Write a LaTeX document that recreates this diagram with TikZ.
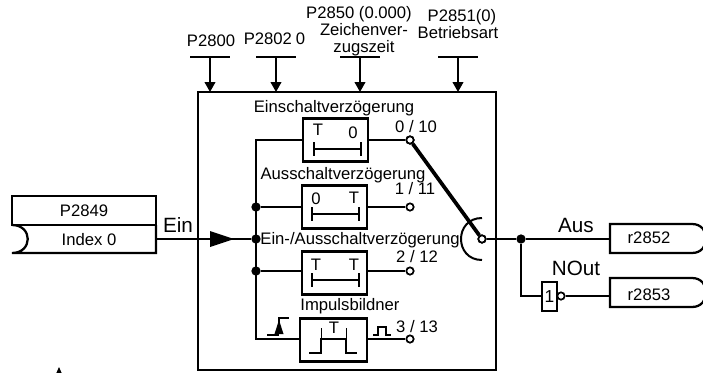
\documentclass[tikz,border=0pt]{standalone}
\usepackage{fontspec}
\setmainfont{Liberation Sans}
\usetikzlibrary{arrows.meta}
\tikzset{
  wire/.style = {line width=1.5pt},
  frame/.style = {draw, line width=1.7pt, inner sep=0pt, outer sep=0pt},
  delaybox/.style = {frame, minimum width=48.75pt, minimum height=32.25pt},
  junction/.style = {circle, fill=black, inner sep=0pt, minimum size=7pt},
  outpin/.style = {circle, draw, fill=white, line width=1.3pt, inner sep=0pt, minimum size=5.5pt},
  txt/.style = {inner sep=0pt, font=\fontsize{12.5}{14}\selectfont},
  bigtxt/.style = {inner sep=0pt, font=\fontsize{15.5}{18}\selectfont},
  param/.style = {wire, -{Triangle[length=7.5pt,width=8pt]}},
  timebar/.pic = {
    \draw[line width=1.4pt] (0,0) -- (47,0)
    (0,-7) -- (0,7)
    (47,-7) -- (47,7);
  },
  connout/.pic = {
    \draw[frame] (0,0) -- (82,0)
    .. controls (101,0) and (101,29) .. (82,29)
    -- (0,29) -- cycle;
  }
}
\begin{document}
\begin{tikzpicture}[x=0.75pt,y=-0.75pt]
  \useasboundingbox (0,0) rectangle (703,372);

  % function block
  \node[frame, minimum width=223.5pt, minimum height=208.5pt] (block) at (347,231) {};

  % parameters on top
  \node[txt] (t2800) at (211,41) {P2800};
  \node[txt] (t2802) at (274.5,39) {P2802\kern3pt 0};
  \node[txt] (t2850) at (359,14) {P2850 (0.000)};
  \node[txt] (t2850a) at (364,30) {Zeichenver-};
  \node[txt] (t2850b) at (364,48) {zugszeit};
  \node[txt] (t2851) at (462,17) {P2851(0)};
  \node[txt] (t2851a) at (458,33) {Betriebsart};
  \coordinate (p2800) at (210,57);
  \coordinate (p2802) at (276,57);
  \coordinate (p2850) at (360,57);
  \coordinate (p2851) at (458,57);
  \foreach \name in {p2800,p2802,p2850,p2851} {
    \draw[wire] (\name) ++(-20,0) -- ++(40,0);
    \draw[param] (\name) -- (\name |- block.north);
  }

  % input
  \node[frame, font=\fontsize{12.5}{14}\selectfont, minimum width=108pt, minimum height=21.75pt] (p2849) at (84,210.5) {P2849};
  \node[txt] (index) at (89,240) {Index 0};
  \coordinate (inlow) at (156,253);
  \coordinate (inout) at (156,239);
  \draw[frame] (p2849.south east) -- (inlow) -- (12,253)
    .. controls (33,253) and (33,225) .. (12,225);
  \node[bigtxt] (ein) at (178,225) {Ein};

  % delay branches
  \node[delaybox] (don) at (335.5,140) {};
  \node[delaybox] (doff) at (334.5,207) {};
  \node[delaybox] (donoff) at (334.5,273) {};
  \node[delaybox, minimum width=50.25pt] (pulse) at (333.5,340) {};
  \node[txt] (tdon) at (334,108) {Einschaltverzögerung};
  \node[txt] (tdoff) at (343,175) {Ausschaltverzögerung};
  \node[txt] (tdonoff) at (360,240) {Ein-/Ausschaltverzögerung};
  \node[txt] (tpulse) at (350,306) {Impulsbildner};
  \node[txt] (t0a) at (318,130) {T};
  \node[txt] (t0b) at (353,133) {0};
  \node[txt] (t1a) at (316,199) {0};
  \node[txt] (t1b) at (354,198) {T};
  \node[txt] (t2a) at (316,265) {T};
  \node[txt] (t2b) at (354,265) {T};
  \node[txt] (t3a) at (334,328) {T};
  \pic at (314,149) {timebar};
  \pic at (312,214) {timebar};
  \pic at (312,280) {timebar};
  \draw[line width=1.4pt] (309,353) -- (321,353) -- (321,339) -- (346,339) -- (346,353) -- (357,353);
  \draw[line width=.7pt] (321,328) -- (321,339) (346,328) -- (346,339);

  % outputs of the branches
  \node[outpin] (o0) at (410,140) {};
  \node[outpin] (o1) at (410,207) {};
  \node[outpin] (o2) at (410,271) {};
  \node[outpin] (o3) at (410,339) {};
  \node[txt] (t010) at (416,127) {0 / 10};
  \node[txt] (t111) at (415,189) {1 / 11};
  \node[txt] (t212) at (417,257) {2 / 12};
  \node[txt] (t313) at (417,327) {3 / 13};
  \draw[line width=1.1pt] (373,335) -- (378,335) -- (378,327) -- (386,327) -- (386,335) -- (391,335);

  \node[junction] (j1) at (256,207) {};
  \node[junction] (j2) at (256,239) {};
  \node[junction] (j3) at (256,271) {};
  \coordinate (bustop) at (256,140);
  \coordinate (busbot) at (256,339);
  \draw[wire] (don.east) -- (o0);
  \draw[wire] (doff.east) -- (o1);
  \draw[wire] (donoff.east |- o2) -- (o2);
  \draw[wire] (pulse.east |- o3) -- (o3);
  \draw[wire] (don.west) -- (bustop) -- (busbot) -- (pulse.west |- busbot);
  \draw[wire] (j1) -- (doff.west);
  \draw[wire] (j3) -- (donoff.west |- j3);
  \draw[wire] (inout) -- (j2);
  \path[fill] (210,231) -- (234,239) -- (210,247) -- cycle;

  % trigger
  \draw[line width=.8pt] (267,335) -- (279,335) (279,333) -- (279,318) -- (289,318);
  \path[fill] (279,320) -- (283.5,334) -- (274.5,334) -- cycle;

  % selector
  \node[outpin] (sel) at (482,239) {};
  \draw[line width=2.8pt] (o0) -- (sel);
  \node[outpin] at (410,140) {};
  \node[outpin] at (482,239) {};
  \draw[wire] (482,218) .. controls (454,218) and (454,260) .. (482,260);

  % output side
  \node[junction] (j4) at (521,239) {};
  \node[bigtxt] (aus) at (576,225) {Aus};
  \node[bigtxt] (nout) at (576,268) {NOut};
  \pic at (610,224) {connout};
  \pic at (610,278) {connout};
  \node[txt] (r2852) at (649,238) {r2852};
  \node[txt] (r2853) at (649,295) {r2853};
  \coordinate (in1) at (610,239);
  \coordinate (in2) at (610,296);
  \node[frame, font=\fontsize{13}{14}\selectfont, minimum width=11.25pt, minimum height=21.75pt] (inv) at (549.5,296.5) {1};
  \node[outpin] (invo) at (561,296) {};
  \draw[wire] (sel) -- (j4) -- (in1);
  \draw[wire] (j4) -- (j4 |- in2) -- (inv.west |- in2);
  \draw[wire] (invo) -- (in2);

  % cut off at lower edge
  \path[fill] (59,367) -- (63,376) -- (55,376) -- cycle;
\end{tikzpicture}
\end{document}
